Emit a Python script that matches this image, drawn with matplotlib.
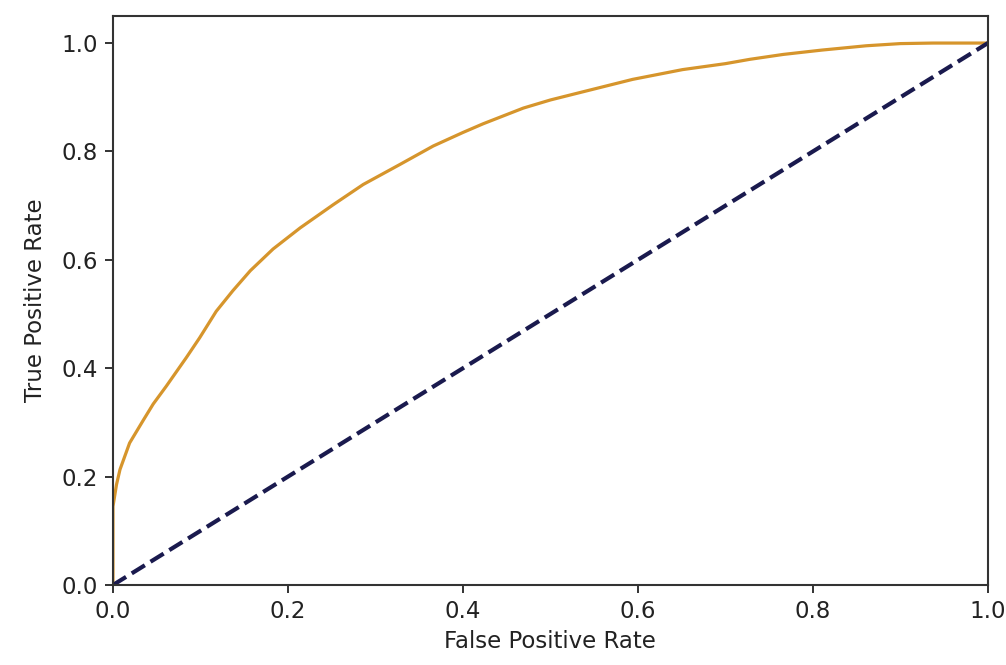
import matplotlib
matplotlib.use("Agg")
import matplotlib.pyplot as plt

# --- ROC curve values ---
fpr = [0.0, 0.0, 0.004, 0.008, 0.019, 0.035, 0.046, 0.061, 0.084, 0.099,
       0.118, 0.137, 0.157, 0.183, 0.214, 0.252, 0.286, 0.328, 0.366, 0.400,
       0.423, 0.469, 0.500, 0.537, 0.594, 0.651, 0.700, 0.728, 0.766, 0.810,
       0.861, 0.900, 0.937, 0.970, 1.0]
tpr = [0.0, 0.145, 0.185, 0.213, 0.262, 0.305, 0.334, 0.367, 0.420, 0.456,
       0.505, 0.543, 0.580, 0.620, 0.659, 0.702, 0.739, 0.776, 0.810, 0.835,
       0.851, 0.880, 0.895, 0.910, 0.933, 0.951, 0.962, 0.970, 0.979, 0.987,
       0.995, 0.999, 1.0, 1.0, 1.0]
diag = [0.0, 1.0]
ticks = [0.0, 0.2, 0.4, 0.6, 0.8, 1.0]

fs = 16.5
fig = plt.figure(figsize=(10.06, 6.65), dpi=100)
ax = fig.add_axes([0.1123, 0.1203, 0.8697, 0.8557])

ax.plot(fpr, tpr, color="#d6952c", lw=2.3)
ax.plot(diag, diag, color="#1a1a4e", lw=3.0, linestyle="--")

ax.set_xlim(0.0, 1.0)
ax.set_ylim(0.0, 1.05)
ax.set_xticks(ticks)
ax.set_yticks(ticks)
ax.set_xticklabels([f"{t:.1f}" for t in ticks])
ax.set_yticklabels([f"{t:.1f}" for t in ticks])
ax.tick_params(labelsize=fs, length=6, width=1.4, color="#333333",
               labelcolor="#222222", pad=5)
for s in ax.spines.values():
    s.set_linewidth(1.5)
    s.set_color("#333333")

ax.set_xlabel("False Positive Rate", fontsize=fs, labelpad=5, color="#222222")
ax.set_ylabel("True Positive Rate", fontsize=fs, labelpad=10, color="#222222")

fig.savefig("out.png", dpi=100)
